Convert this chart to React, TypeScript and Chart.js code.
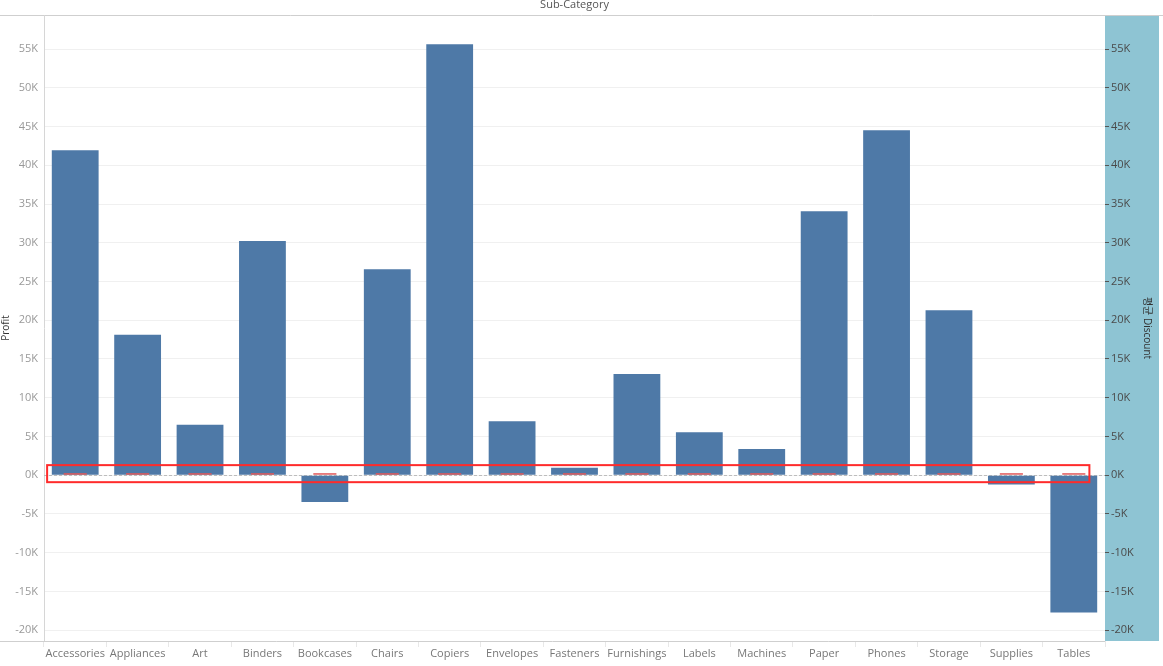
import React, { useEffect, useRef } from "react";
import { Chart, registerables } from "chart.js";

Chart.register(...registerables);

const categories = [
  "Accessories", "Appliances", "Art", "Binders", "Bookcases", "Chairs", "Copiers",
  "Envelopes", "Fasteners", "Furnishings", "Labels", "Machines", "Paper", "Phones",
  "Storage", "Supplies", "Tables",
];

const profit = [
  41937, 18138, 6528, 30222, -3473, 26590, 55618,
  6964, 950, 13059, 5546, 3385, 34054, 44516,
  21279, -1189, -17725,
];

const avgDiscount = [
  0.078, 0.167, 0.075, 0.372, 0.211, 0.170, 0.161,
  0.080, 0.082, 0.138, 0.069, 0.306, 0.075, 0.155,
  0.075, 0.077, 0.261,
];

const tickValues = [
  -20000, -15000, -10000, -5000, 0, 5000, 10000, 15000,
  20000, 25000, 30000, 35000, 40000, 45000, 50000, 55000,
];
const tickLabels = [
  "-20K", "-15K", "-10K", "-5K", "0K", "5K", "10K", "15K",
  "20K", "25K", "30K", "35K", "40K", "45K", "50K", "55K",
];

const axisMin = -21400;
const axisMax = 59400;

// highlight box in data units (category index, profit value)
const highlightX = [-0.45, 16.25];
const highlightY = [1300, -900];

const FONT = "'Open Sans', 'Noto Sans', sans-serif";

const decorPlugin = {
  id: "decor",
  beforeDraw(chart: any) {
    const { ctx, chartArea, scales } = chart;
    const y2 = scales.y2;
    ctx.save();
    ctx.fillStyle = "#8ec4d3";
    ctx.fillRect(y2.left, chartArea.top, y2.right - 4 - y2.left, chartArea.bottom - chartArea.top);
    ctx.strokeStyle = "#cfcfcf";
    ctx.lineWidth = 1;
    ctx.beginPath();
    ctx.moveTo(0, chartArea.top + 0.5);
    ctx.lineTo(chart.width, chartArea.top + 0.5);
    ctx.stroke();
    ctx.fillStyle = "#555";
    ctx.font = `11px ${FONT}`;
    ctx.textAlign = "center";
    ctx.textBaseline = "alphabetic";
    ctx.fillText("Sub-Category", (chartArea.left + chartArea.right) / 2, 7.5);
    ctx.restore();
  },
  beforeDatasetsDraw(chart: any) {
    const { ctx, chartArea, scales } = chart;
    const y0 = Math.round(scales.y.getPixelForValue(0)) + 0.5;
    ctx.save();
    ctx.strokeStyle = "#bdbdbd";
    ctx.lineWidth = 1;
    ctx.setLineDash([3, 2]);
    ctx.beginPath();
    ctx.moveTo(chartArea.left, y0);
    ctx.lineTo(chartArea.right, y0);
    ctx.stroke();
    ctx.restore();
  },
  afterDraw(chart: any) {
    const { ctx, chartArea, scales } = chart;
    const x = scales.x;
    const y = scales.y;
    ctx.save();
    ctx.strokeStyle = "#cfcfcf";
    ctx.lineWidth = 1;
    ctx.beginPath();
    ctx.moveTo(0, chartArea.bottom + 0.5);
    ctx.lineTo(chartArea.right, chartArea.bottom + 0.5);
    ctx.stroke();
    const x1 = x.getPixelForValue(highlightX[0]);
    const x2 = x.getPixelForValue(highlightX[1]);
    const yT = y.getPixelForValue(highlightY[0]);
    const yB = y.getPixelForValue(highlightY[1]);
    ctx.strokeStyle = "#ff2b2b";
    ctx.lineWidth = 2;
    ctx.strokeRect(x1, yT, x2 - x1, yB - yT);
    ctx.restore();
  },
};

const setTicks = (scale: any) => {
  scale.ticks = tickValues.map((v) => ({ value: v }));
};
const tickCb = (v: any) => {
  const i = tickValues.indexOf(Number(v));
  return i >= 0 ? tickLabels[i] : "";
};

export default function App() {
  const ref = useRef<HTMLCanvasElement>(null);
  useEffect(() => {
    if (!ref.current) return;
    const chart = new Chart(ref.current, {
      type: "bar",
      data: {
        labels: categories,
        datasets: [
          {
            label: "평균 Discount",
            data: avgDiscount,
            yAxisID: "y2",
            backgroundColor: "#e15759",
            barPercentage: 0.37,
            categoryPercentage: 1,
            minBarLength: 2,
            grouped: false,
            order: 0,
          } as any,
          {
            label: "Profit",
            data: profit,
            yAxisID: "y",
            backgroundColor: "#4e79a7",
            barPercentage: 0.75,
            categoryPercentage: 1,
            grouped: false,
            order: 1,
          } as any,
        ],
      },
      options: {
        animation: false,
        responsive: false,
        maintainAspectRatio: false,
        layout: { padding: { top: 15, left: 0, right: 0, bottom: 0 } },
        plugins: {
          legend: { display: false },
          tooltip: { enabled: false },
        },
        scales: {
          x: {
            offset: true,
            grid: {
              display: true,
              drawOnChartArea: false,
              offset: true,
              tickLength: 6,
              color: "#e8e8e8",
            },
            border: { display: false },
            ticks: {
              color: "#777",
              font: { family: FONT, size: 11 },
              padding: 0,
              maxRotation: 0,
              autoSkip: false,
            },
            afterFit: (s: any) => { s.height = 25; },
          },
          y: {
            type: "linear",
            position: "left",
            min: axisMin,
            max: axisMax,
            afterBuildTicks: setTicks,
            ticks: {
              autoSkip: false,
              callback: tickCb,
              color: "#999",
              font: { family: FONT, size: 11 },
              padding: 6,
            } as any,
            grid: { color: "#f0f0f0", drawTicks: false },
            border: { display: true, color: "#d6d6d6" },
            title: {
              display: true,
              text: "Profit",
              color: "#333",
              font: { family: FONT, size: 10 },
              padding: { top: 0, bottom: 0 },
            },
            afterFit: (s: any) => { s.width = 44; },
          } as any,
          y2: {
            type: "linear",
            position: "right",
            min: axisMin,
            max: axisMax,
            afterBuildTicks: setTicks,
            ticks: {
              autoSkip: false,
              callback: tickCb,
              color: "#4a4a4a",
              font: { family: FONT, size: 11 },
              padding: 2,
            } as any,
            grid: {
              drawOnChartArea: false,
              drawTicks: true,
              tickLength: 4,
              tickColor: "#555",
            },
            border: { display: false },
            title: {
              display: true,
              text: "평균 Discount",
              color: "#333",
              font: { family: "'Open Sans', 'Noto Sans CJK KR', sans-serif", size: 10 },
              padding: { top: 10, bottom: 0 },
            },
            afterFit: (s: any) => { s.width = 58; },
          } as any,
        },
      },
      plugins: [decorPlugin],
    });
    return () => chart.destroy();
  }, []);
  return (
    <div style={{ position: "absolute", left: 0, top: 0, width: 1163, height: 666 }}>
      <canvas ref={ref} width={1163} height={666} />
    </div>
  );
}
